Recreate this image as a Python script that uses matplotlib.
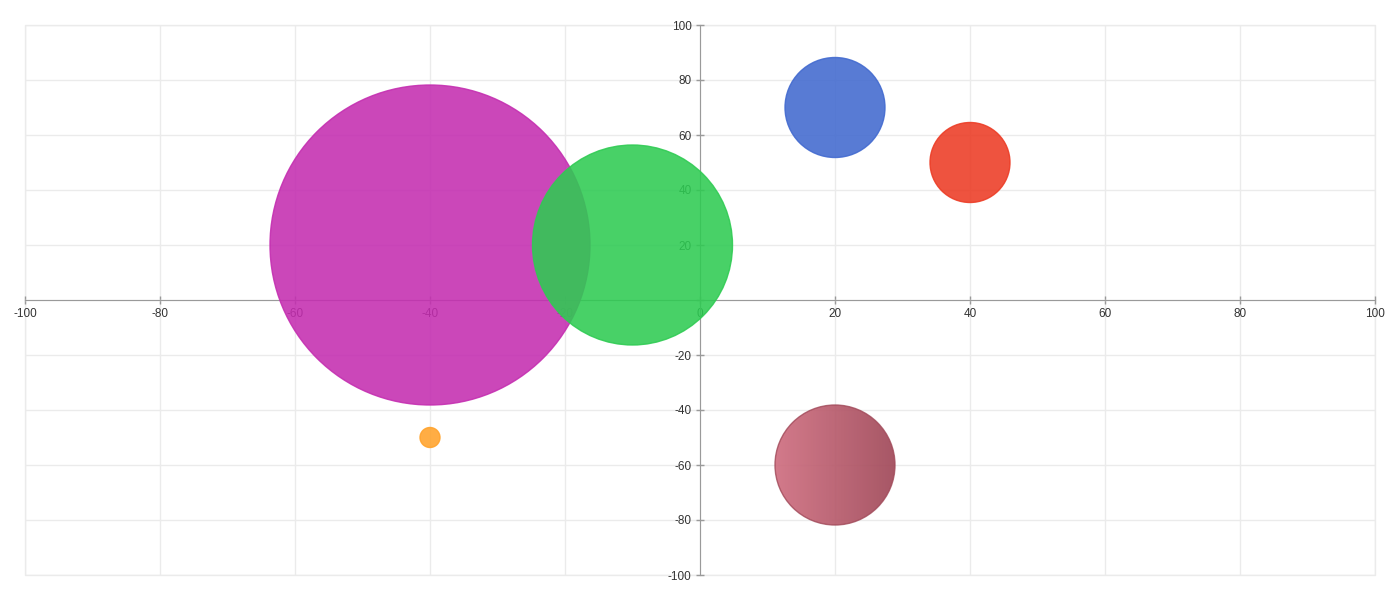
import numpy as np
import matplotlib.pyplot as plt
from matplotlib.patches import Ellipse, Rectangle
from matplotlib.ticker import FuncFormatter

plt.rcParams["font.family"] = ["Liberation Sans", "DejaVu Sans"]

# bubble data (x, y, radius in px)
xs = [-40, -10, 20, 40, -40]
ys = [20, 20, 70, 50, -50]
radii = [160, 100, 50, 40, 10]
colors = ["#c42db0", "#2ecb52", "#4169cf", "#ec3b24", "#ffa22a"]

# gradient bubble
gx, gy, gr = 20, -60, 60
grad_left = "#cf6e80"
grad_right = "#a04858"

ticks = [-100, -80, -60, -40, -20, 0, 20, 40, 60, 80, 100]

DPI = 100
fig = plt.figure(figsize=(14, 6), dpi=DPI)
ax = fig.add_axes([25 / 1400, 25 / 600, 1350 / 1400, 550 / 600])
ax.set_xlim(-100, 100)
ax.set_ylim(-100, 100)
ax.set_xticks(ticks)
ax.set_yticks(ticks)
ax.set_axisbelow(True)
ax.grid(True, color="#ebebeb", lw=1)
for ln in ax.get_xgridlines() + ax.get_ygridlines():
    ln.set_clip_on(False)
# light outer frame like the grid
ax.add_patch(Rectangle((0, 0), 1, 1, transform=ax.transAxes, fill=False,
                       edgecolor="#ebebeb", lw=1, clip_on=False, zorder=0.4))

for s in ["top", "right"]:
    ax.spines[s].set_visible(False)
for s in ["left", "bottom"]:
    ax.spines[s].set_position(("data", 0))
    ax.spines[s].set_color("#9a9a9a")
    ax.spines[s].set_zorder(0.6)

ax.tick_params(axis="both", colors="#9a9a9a", labelcolor="#333333",
               labelsize=8.5, length=6, width=1, direction="inout")
ax.tick_params(axis="x", pad=3)
ax.tick_params(axis="y", pad=3)
ax.yaxis.set_major_formatter(FuncFormatter(lambda v, p: "" if v == 0 else "%d" % v))
ax.xaxis.set_major_formatter(FuncFormatter(lambda v, p: "%d" % v))

# normal bubbles: marker size is diameter in points
sizes = [(2 * r * 72 / DPI) ** 2 for r in radii]
ax.scatter(xs, ys, s=sizes, c=colors, alpha=0.88, edgecolors=colors,
           linewidths=1, zorder=3)

# gradient bubble as an ellipse in data units (circle on screen)
bbox = ax.get_window_extent()
ux = gr / (bbox.width / 200)
uy = gr / (bbox.height / 200)
circ = Ellipse((gx, gy), 2 * ux, 2 * uy, facecolor="none",
               edgecolor=grad_right, lw=1, alpha=0.8, zorder=4)
ax.add_patch(circ)
c1 = np.array(plt.matplotlib.colors.to_rgb(grad_left))
c2 = np.array(plt.matplotlib.colors.to_rgb(grad_right))
t = np.linspace(0, 1, 256)
img = (c1[None, :] * (1 - t[:, None]) + c2[None, :] * t[:, None])[None, :, :]
im = ax.imshow(img, extent=[gx - ux, gx + ux, gy - uy, gy + uy],
               aspect="auto", alpha=0.92, zorder=3.5, interpolation="bilinear")
im.set_clip_path(circ)
ax.set_xlim(-100, 100)
ax.set_ylim(-100, 100)

fig.savefig("out.png", dpi=DPI)
